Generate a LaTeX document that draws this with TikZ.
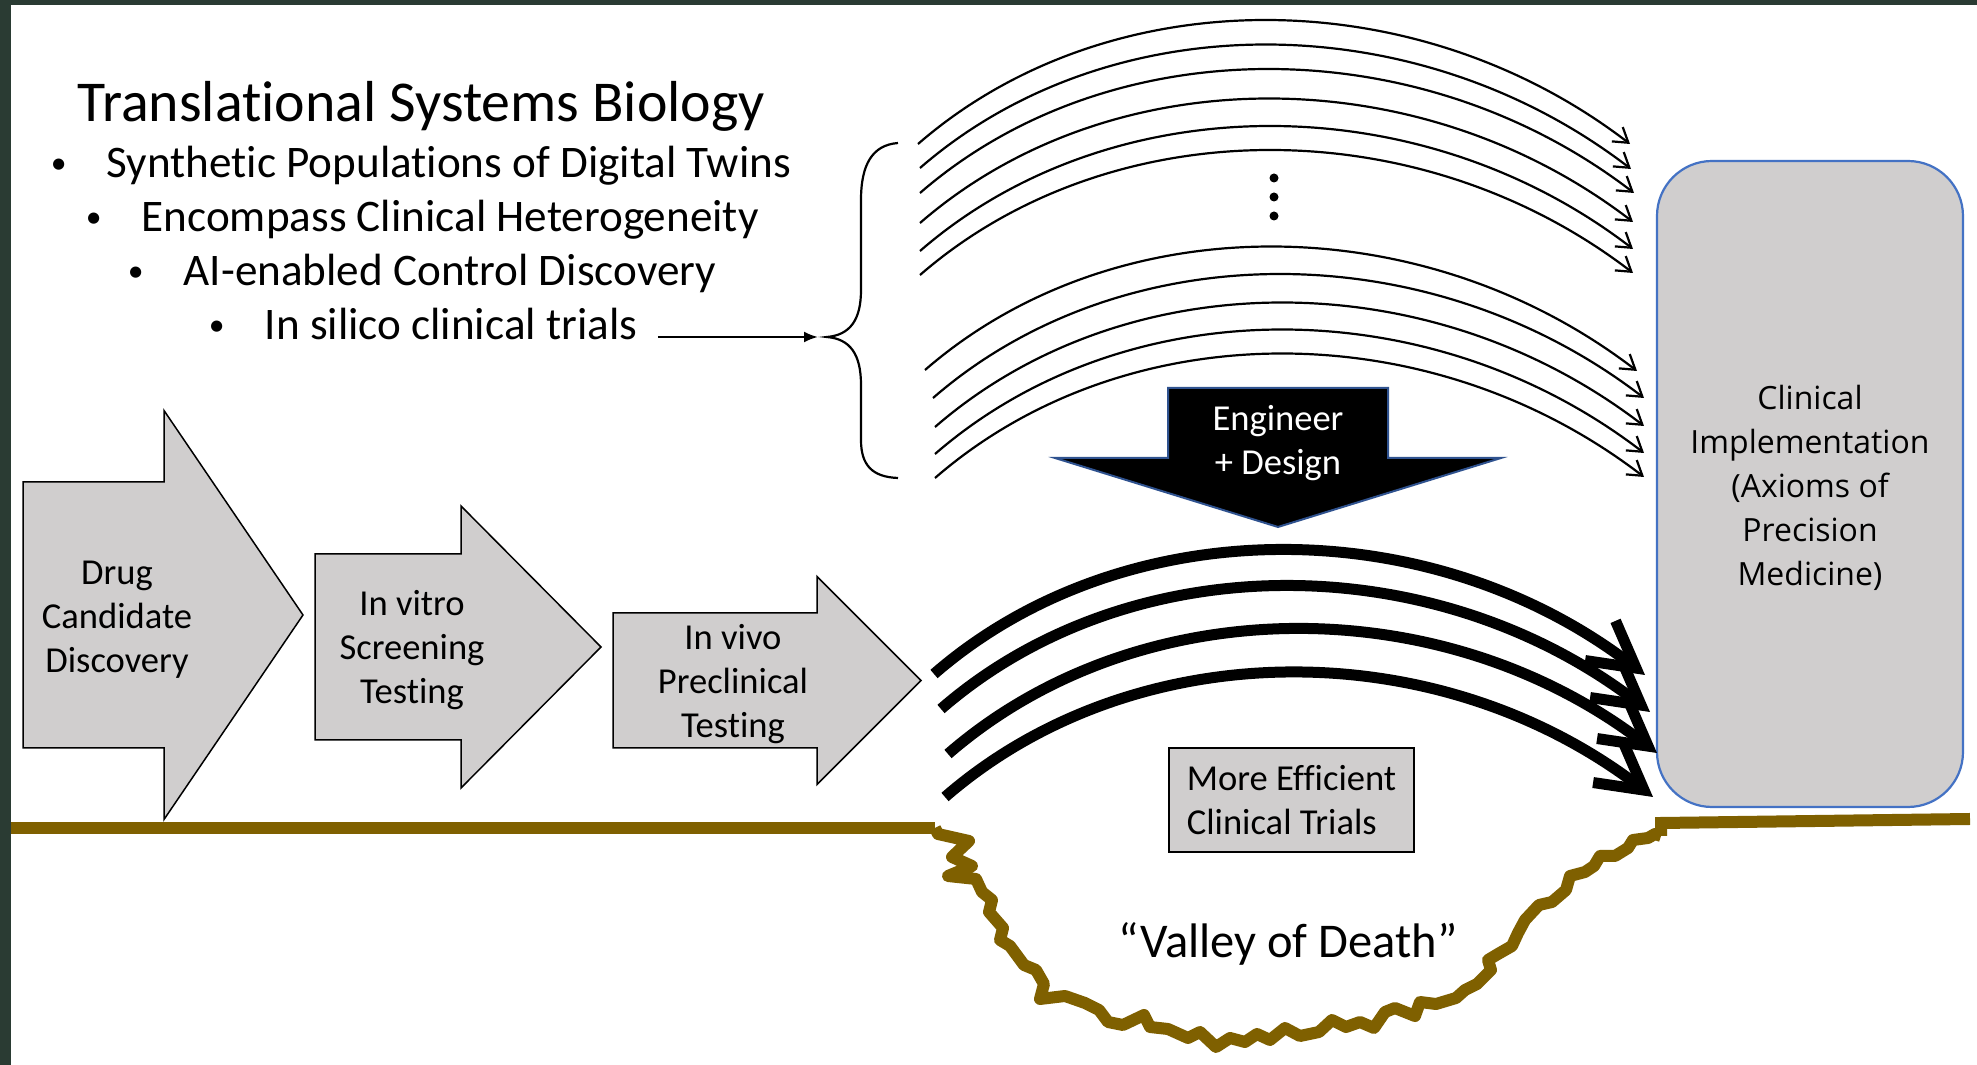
\documentclass[tikz,border=0pt]{standalone}
\usepackage{fontspec}
\setmainfont[Ligatures={TeX,NoCommon}]{Carlito}
\newfontfamily\boxfont{Open Sans}
\usetikzlibrary{positioning, arrows.meta}

\definecolor{slidegray}{HTML}{D0CECE}
\definecolor{groundbrown}{HTML}{7F6000}
\definecolor{slideframe}{HTML}{2A3B33}
\definecolor{boxblue}{HTML}{4472C4}
\definecolor{darkblue}{HTML}{2F528F}

\tikzset{
  stage/.style={draw=black, line width=0.15mm, fill=slidegray},
  stagetext/.style={inner sep=0pt, align=center, font=\fontsize{10.4}{12.5}\selectfont},
  bul/.style={inner sep=0pt, anchor=base west, font=\fontsize{12.85}{15}\selectfont},
  thinarc/.style={line width=0.22mm, -{Straight Barb[length=1.4mm,width=1.8mm]}},
  thickarc/.style={line width=1.1mm, -{Straight Barb[length=4.5mm,width=5mm]}},
  groundline/.style={draw=groundbrown, line width=1.2mm},
}

% block arrow pointing right: left x, head base x, tip x, mid y, half shaft, half head
\newcommand{\stagearrow}[6]{%
  \draw[stage] (#1,#4-#5) -- (#2,#4-#5) -- (#2,#4-#6) -- (#3,#4)
    -- (#2,#4+#6) -- (#2,#4+#5) -- (#1,#4+#5) -- cycle;}
\newcommand{\smallbullet}{\llap{\raisebox{0.45mm}{\fontsize{9}{9}\selectfont\textbullet}\hspace{4mm}}}

\begin{document}
\begin{tikzpicture}[x=0.1mm, y=-0.1mm]
  \useasboundingbox (0,0) rectangle (1977,1065);
  \fill[white] (0,0) rectangle (1977,1065);
  \fill[slideframe] (0,0) rectangle (1977,5);
  \fill[slideframe] (0,0) rectangle (10.5,1065);

  % Title and bullets
  \node[inner sep=0pt, anchor=base west, font=\fontsize{16.45}{19}\selectfont] (title) at (77,122) {Translational Systems Biology};
  \foreach \x/\y/\name/\txt in {106/178/twins/Synthetic Populations of Digital Twins,
      141/232/hetero/Encompass Clinical Heterogeneity,
      183/286/control/AI-enabled Control Discovery,
      264/340/silico/In silico clinical trials}
    \node[bul] (\name) at (\x,\y) {\smallbullet\txt};

  % Brace
  \coordinate (bracetip) at (827,337);
  \draw[line width=0.22mm] (898,143) .. controls (872,145) and (861,165) .. (861,200)
    -- (861,290) .. controls (861,320) and (850,335) .. (bracetip)
    .. controls (850,339) and (861,354) .. (861,385)
    -- (861,440) .. controls (861,465) and (872,477) .. (898,478);
  \draw[line width=0.22mm, -{Latex[length=1.4mm,width=1.1mm]}, shorten >=0.9mm]
    ([shift={(20,-3)}]silico.base east) -- (bracetip);

  % Thin arcs
  \foreach \i/\xs/\ys/\xe/\ye in {1/918/144/1630/144, 2/920/168/1631/169, 3/920/193/1634/193,
      4/920/223/1633/222, 5/920/251/1633/249, 6/920/275/1633/273,
      7/925/370/1637/371, 8/933/398/1644/398, 9/935/427/1644/426,
      10/935/454/1644/453, 11/935/478/1644/477}
  {
    \coordinate (src\i) at (\xs,\ys);
    \coordinate (dst\i) at (\xe,\ye);
    \draw[thinarc] (src\i) .. controls +(190,-165) and +(-215,-165) .. (dst\i);
  }
  \foreach \y in {178,197,216}
    \fill (1274,\y) circle[radius=0.45mm];

  % Engineer + Design arrow
  \fill[black, draw=darkblue, line width=0.2mm] (1168,388) -- (1388,388) -- (1388,458)
    -- (1501,458) -- (1278,527) -- (1055,458) -- (1168,458) -- cycle;
  \node[stagetext, text=white] (design) at (1278,443.5) {Engineer\\+ Design};

  % Stages
  \stagearrow{23}{164}{303}{615}{133}{204.5}
  \stagearrow{315}{461}{601}{647}{93}{141}
  \stagearrow{613}{817}{921}{680.5}{67.5}{104}
  \node[stagetext] (drug) at (117,619.5) {Drug\\Candidate\\Discovery};
  \node[stagetext] (vitro) at (412,650) {In vitro\\Screening\\Testing};
  \node[stagetext] (vivo) at (733,684.5) {In vivo\\Preclinical\\Testing};

  % Clinical implementation
  \node[draw=boxblue, line width=0.22mm, fill=slidegray, rounded corners=5.5mm,
    minimum width=30.6mm, minimum height=64.6mm] (clinic) at (1810,484) {};
  \node[inner sep=0pt, align=center, font=\boxfont\fontsize{9.1}{12.5}\selectfont]
    (clinictext) at (1810,488) {Clinical\\Implementation\\(Axioms of\\Precision\\Medicine)};

  % Thick arcs
  \foreach \i/\xs/\ys/\xe/\ye in {1/934/674/1645/675, 2/941/709/1650/712,
      3/948/754/1657/753, 4/945/797/1653/797}
  {
    \coordinate (tsrc\i) at (\xs,\ys);
    \coordinate (tdst\i) at (\xe,\ye);
    \draw[thickarc] (tsrc\i) .. controls +(190,-165) and +(-215,-165) .. (tdst\i);
  }
  \node[stage, minimum width=24.5mm, minimum height=10.4mm, align=left, inner sep=0pt,
    font=\fontsize{10.4}{12.5}\selectfont] (trials) at (1291.5,800) {More Efficient\\Clinical Trials};

  % Ground and valley
  \draw[groundline] (11,828) -- (935,828);
  \draw[groundline] (1661,836) -- (1661,823) -- (1970,819);
  \draw[groundline, line join=round] (935,828) -- (938,834) -- (969,841) -- (952,857)
    -- (972,866) -- (948,876) -- (976,879) -- (982,892) -- (992,900) -- (989,912)
    -- (1003,928) -- (1000,940) -- (1010,946) -- (1024,965) -- (1036,970) -- (1044,984)
    -- (1040,999) -- (1065,996) -- (1085,1003) -- (1099,1010) -- (1108,1022) -- (1123,1025)
    -- (1144,1015) -- (1150,1027) -- (1168,1029) -- (1188,1038) -- (1200,1032)
    -- (1216,1047) -- (1230,1038) -- (1245,1042) -- (1257,1034) -- (1270,1040)
    -- (1285,1028) -- (1300,1036) -- (1319,1032) -- (1332,1020) -- (1346,1027)
    -- (1360,1022) -- (1374,1028) -- (1385,1012) -- (1395,1008) -- (1415,1016)
    -- (1420,1002) -- (1436,1004) -- (1456,998) -- (1465,990) -- (1477,984)
    -- (1491,970) -- (1488,960) -- (1498,954) -- (1512,946) -- (1518,933)
    -- (1525,920) -- (1539,905) -- (1552,902) -- (1566,890) -- (1570,876)
    -- (1585,872) -- (1594,866) -- (1600,856) -- (1615,856) -- (1628,848)
    -- (1633,840) -- (1648,838) -- (1655,834) -- (1661,836);
  \node[inner sep=0pt, anchor=base, font=\fontsize{13.8}{16}\selectfont] (valley) at (1288,958) {“Valley of Death”};
\end{tikzpicture}
\end{document}
